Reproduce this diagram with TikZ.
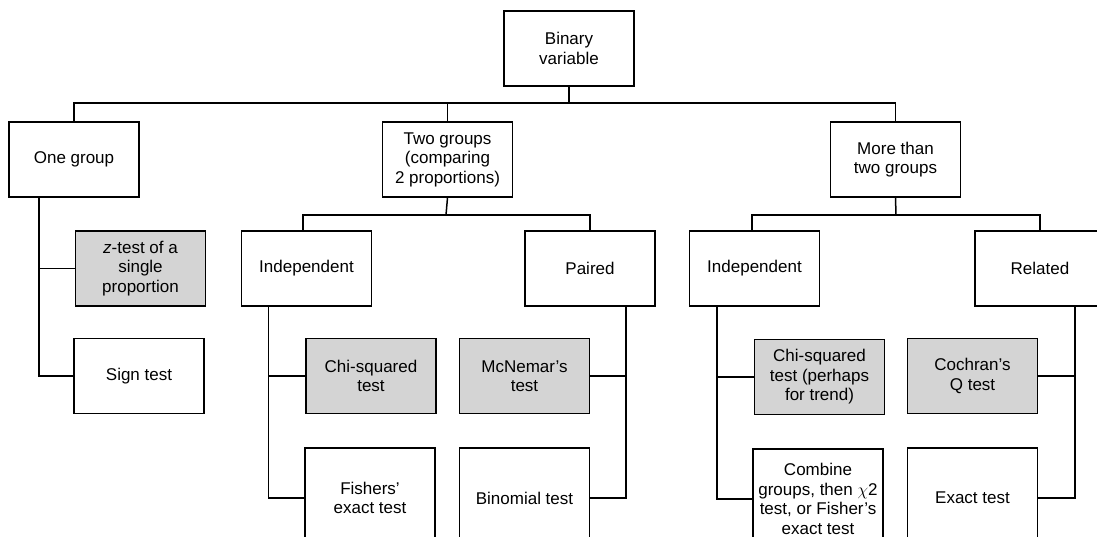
\documentclass[tikz,border=0pt]{standalone}
\usepackage{fontspec}
\setmainfont{Liberation Sans}
\begin{document}
\begin{tikzpicture}[x=1pt,y=-1pt,
  box/.style={draw,line width=1.5pt,minimum width=130pt,minimum height=75pt,align=center,inner sep=2pt,font=\fontsize{17}{19.5}\selectfont},
  testbox/.style={box,fill=black!17},
  tallbox/.style={box,minimum height=100pt},
  link/.style={line width=1.5pt}]
\useasboundingbox (0,0) rectangle (1097,537);
\clip (0,0) rectangle (1097,537);
% top
\node[box] (binary) at (569,48.5) {Binary\\variable};
\node[box] (onegrp) at (74,159.5) {One group};
\node[box] (twogrp) at (447.5,159.5) {Two groups\\(comparing\\2 proportions)};
\node[box] (moregrp) at (895.5,159.5) {More than\\two groups};
% second level
\node[box] (indepA) at (306.5,268.5) {Independent};
\node[box] (paired) at (590,268.5) {Paired};
\node[box] (indepB) at (754.5,268.5) {Independent};
\node[box] (related) at (1040,268.5) {Related};
% tests
\node[testbox] (ztest) at (140.5,268.5) {\textit{z}-test of a\\single\\proportion};
\node[box] (sign) at (139,376) {Sign test};
\node[testbox] (chisq) at (371,376) {Chi-squared\\test};
\node[tallbox] (fisher) at (370,498) {Fishers'\\exact test};
\node[testbox] (mcnemar) at (524.5,376) {McNemar's\\test};
\node[tallbox] (binom) at (524.5,498) {Binomial test};
\node[testbox] (chitrend) at (819.5,377) {Chi-squared\\test (perhaps\\for trend)};
\node[tallbox] (combine) at (818,499) {Combine\\groups, then $\chi$2\\test, or Fisher's\\exact test};
\node[testbox] (cochran) at (972.5,376) {Cochran's\\Q test};
\node[tallbox] (exact) at (972.5,498) {Exact test};
% connectors
\coordinate (busT) at (569,103);
\coordinate (busA) at (446,215);
\coordinate (busB) at (896,215);
\draw[link] (binary.south) -- (busT);
\draw[link] (onegrp.north) |- (busT) -| (moregrp.north);
\draw[link] (twogrp.north) -- (twogrp.north |- busT);
\draw[link] (twogrp.south) -- (busA);
\draw[link] ([xshift=-3.5pt]indepA.north) |- (busA) -| (paired.north);
\draw[link] (moregrp.south) -- (busB);
\draw[link] ([xshift=-2.5pt]indepB.north) |- (busB) -| (related.north);
\draw[link] ([xshift=-35pt]onegrp.south) |- (ztest.west);
\draw[link] ([xshift=-35pt]onegrp.south) |- (sign.west);
\draw[link] ([xshift=-38pt]indepA.south) |- (chisq.west);
\draw[link] ([xshift=-38pt]indepA.south) |- (fisher.west);
\draw[link] ([xshift=36pt]paired.south) |- (mcnemar.east);
\draw[link] ([xshift=36pt]paired.south) |- (binom.east);
\draw[link] ([xshift=-37.5pt]indepB.south) |- (chitrend.west);
\draw[link] ([xshift=-37.5pt]indepB.south) |- (combine.west);
\draw[link] ([xshift=35pt]related.south) |- (cochran.east);
\draw[link] ([xshift=35pt]related.south) |- (exact.east);
\end{tikzpicture}
\end{document}
